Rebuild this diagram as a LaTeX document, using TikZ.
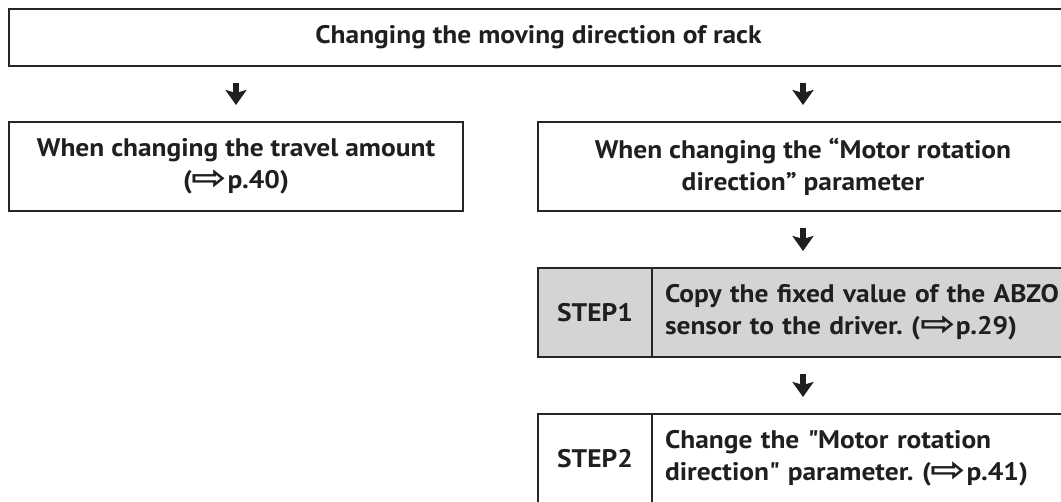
\documentclass[tikz,border=0pt]{standalone}
\usepackage{fontspec}
\setmainfont{PT Sans}[FakeStretch=1.08]
\newfontfamily\arrowfont{DejaVu Sans}
\usetikzlibrary{arrows.meta,positioning}

\newcommand{\pgref}[1]{(\smash{\raisebox{-1pt}{\scalebox{1.25}[1]{\arrowfont\bfseries\fontsize{34}{34}\selectfont ⇨}}}p.#1)}
\frenchspacing

\begin{document}
\begin{tikzpicture}[x=1pt,y=-1pt,
    box/.style={draw=black!85, line width=1.1pt, outer sep=0pt, inner sep=0pt,
                minimum height=89pt, align=center, text=black!88,
                font=\fontsize{25.4}{32}\selectfont\bfseries},
    numbox/.style={box, minimum width=114pt},
    txtbox/.style={box, text width=410pt, inner xsep=13pt, align=left},
    shaded/.style={fill=black!17},
    dn/.style={-{Stealth[length=15pt,width=21pt,inset=3pt]}, line width=6pt,
               black!88, shorten <=17pt, shorten >=17pt}
]
\clip (0,0) rectangle (1061,502);

\node[box, minimum width=1059pt, minimum height=57pt] (rack) at (538.5,37.5)
    {Changing the moving direction of rack};
\node[box, minimum width=454pt] (travel) at (236,166.5)
    {When changing the travel amount\\\pgref{40}};
\node[box, minimum width=530pt] (param) at (803,166.5)
    {When changing the “Motor rotation\\direction” parameter};

\node[numbox, shaded] (step1) at (595,312.5) {STEP1};
\node[txtbox, shaded, right=0pt of step1] (copy)
    {Copy the fixed value of the ABZO\\sensor to the driver. \pgref{29}};
\node[numbox] (step2) at (595,458.5) {STEP2};
\node[txtbox, right=0pt of step2] (change)
    {Change the \textquotedbl Motor rotation\\direction\textquotedbl\ parameter. \pgref{41}};

\draw[dn] (rack.south -| travel.north) -- (travel.north);
\draw[dn] (rack.south -| param.north) -- (param.north);
\draw[dn] (param.south) -- (param.south |- copy.north);
\draw[dn] (param.south |- copy.south) -- (param.south |- change.north);
\end{tikzpicture}
\end{document}
